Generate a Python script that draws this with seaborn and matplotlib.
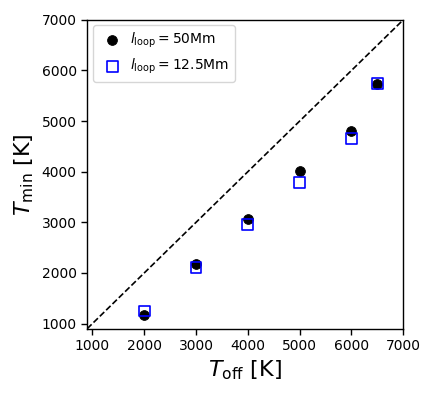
import numpy as np
import pandas as pd
import matplotlib
matplotlib.use("Agg")
import matplotlib.pyplot as plt
import seaborn as sns

t_off = [2000, 3000, 4000, 5000, 6000, 6500]
t_min_50 = [1180, 2180, 3070, 4010, 4800, 5740]
t_min_125 = [1250, 2110, 2960, 3790, 4660, 5740]

sns.set_style("ticks")
plt.rcParams['font.family'] = ['DejaVu Sans']
plt.rcParams['text.color'] = 'black'
plt.rcParams['axes.labelcolor'] = 'black'

fig, ax = plt.subplots(figsize=(4.36, 3.96), dpi=100)
fig.subplots_adjust(left=0.2, right=0.925, top=0.95, bottom=0.17)

line = np.array([900, 7000])
ax.plot(line, line, 'k--', lw=1.2)

df50 = pd.DataFrame({"x": t_off, "y": t_min_50})
df125 = pd.DataFrame({"x": t_off, "y": t_min_125})
sns.scatterplot(data=df50, x="x", y="y", ax=ax, marker='o', s=50, color='black',
                edgecolor='black', label=r"$l_{\rm loop}=50$Mm", zorder=3)
sns.scatterplot(data=df125, x="x", y="y", ax=ax, marker='s', s=60, facecolor='none',
                edgecolor='blue', linewidth=1.2, label=r"$l_{\rm loop}=12.5$Mm", zorder=3)

ax.set_xlim(900, 7000)
ax.set_ylim(900, 7000)
ax.set_xticks(range(1000, 7001, 1000))
ax.set_yticks(range(1000, 7001, 1000))
ax.tick_params(labelsize=10, direction='out', length=4, width=1, color='black', labelcolor='black')
for sp in ax.spines.values():
    sp.set_color('black')
    sp.set_linewidth(1)
ax.set_xlabel(r"$T_{\rm off}$ [K]", fontsize=16)
ax.set_ylabel(r"$T_{\rm min}$ [K]", fontsize=16)
ax.legend(loc='upper left', fontsize=10, handletextpad=0.3, borderaxespad=0.4)

fig.savefig("out.png", dpi=100)
